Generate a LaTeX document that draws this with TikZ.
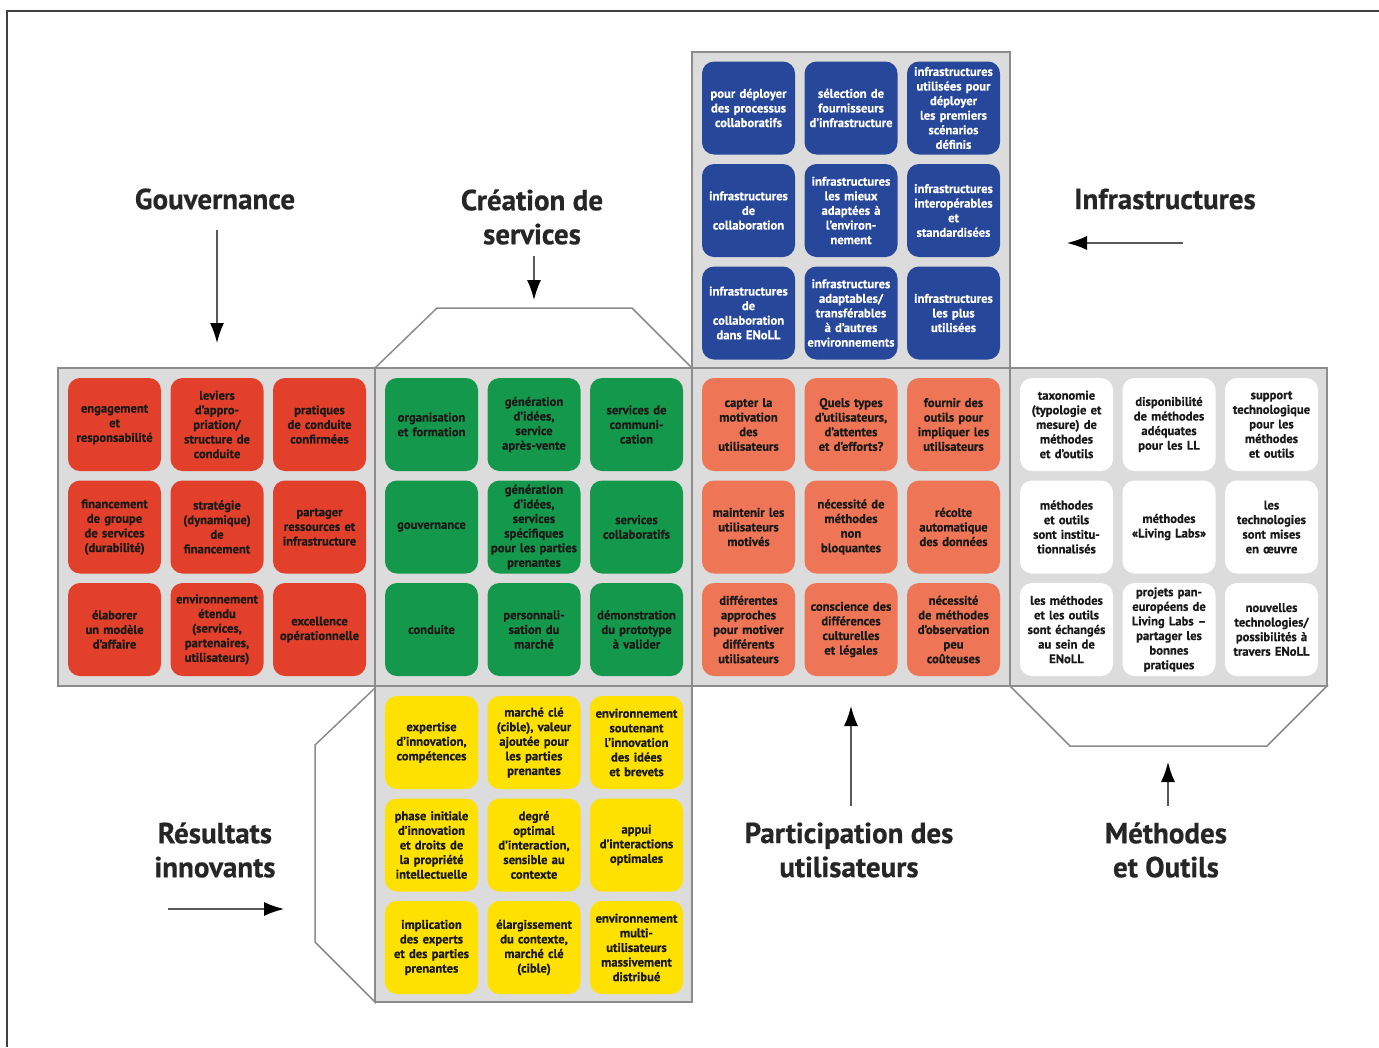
\documentclass[tikz,border=0pt]{standalone}
\usepackage{fontspec}
\setmainfont{PT Sans}[BoldFeatures={FakeBold=0.6}]
\usepackage{tikz}
\usetikzlibrary{shapes,arrows.meta,positioning}

\definecolor{gouvred}{HTML}{E2402B}
\definecolor{servgreen}{HTML}{14984B}
\definecolor{infrablue}{HTML}{27479A}
\definecolor{partorange}{HTML}{EE7656}
\definecolor{resyellow}{HTML}{FFE100}
\definecolor{facegray}{HTML}{DCDCDC}
\definecolor{edgegray}{HTML}{8C8C8C}

\tikzset{
	tilebox/.style={rounded corners=12pt, minimum width=93pt, minimum height=93pt, text width=92pt, inner sep=0pt, align=center, font=\fontsize{12.6}{14.6}\selectfont\bfseries, text=black!90},
	facebox/.style={fill=facegray, draw=edgegray, line width=1.5pt},
	flapline/.style={fill=white, draw=edgegray, line width=1.5pt},
	titlelabel/.style={align=center, font=\fontsize{29}{34}\selectfont\bfseries, text=black!85},
	pointerarrow/.style={draw=black!65, line width=1.5pt, -{Latex[length=20pt,width=14pt,color=black]}}
}

\begin{document}
\begin{tikzpicture}[x=1pt, y=-1pt]
				\useasboundingbox (0,0) rectangle (1379,1047);
				\draw [line width=2pt, draw=black!75] (7,1047) -- (7,11) -- (1379,11);

				% flaps
				\draw [flapline] (375,368) -- (437,308) -- (632,308) -- (692,368) -- cycle;
				\draw [flapline] (1010,686) -- (1070,746) -- (1267,746) -- (1327,686) -- cycle;
				\draw [flapline] (375,688) -- (315,745) -- (315,942) -- (375,1002) -- cycle;

				% infrastructures
				\draw [facebox] (692,52) rectangle (1010,368);
				\foreach \txt [count=\i from 0] in {
						{pour déployer\\des processus\\collaboratifs},
						{sélection de\\fournisseurs\\d’infrastructure},
						{infrastructures\\utilisées pour\\déployer\\les premiers\\scénarios\\définis},
						{infrastructures\\de\\collaboration},
						{infrastructures\\les mieux\\adaptées à\\l’environ-\\nement},
						{infrastructures\\interopérables\\et\\standardisées},
						{infrastructures\\de\\collaboration\\dans ENoLL},
						{infrastructures\\adaptables/\\transférables\\à d’autres\\environnements},
						{infrastructures\\les plus\\utilisées}}{
					\pgfmathtruncatemacro{\col}{mod(\i,3)}
					\pgfmathtruncatemacro{\row}{\i/3}
					\node [tilebox, fill=infrablue, text=white] (infra\i) at (748.5+102.5*\col, 108+102.5*\row) {\txt};
				}

				% gouvernance
				\draw [facebox] (58,368) rectangle (375,686);
				\foreach \txt [count=\i from 0] in {
						{engagement\\et\\responsabilité},
						{leviers\\d’appro-\\priation/\\structure de\\conduite},
						{pratiques\\de conduite\\confirmées},
						{financement\\de groupe\\de services\\(durabilité)},
						{stratégie\\(dynamique)\\de\\financement},
						{partager\\ressources et\\infrastructure},
						{élaborer\\un modèle\\d’affaire},
						{environnement\\étendu\\(services,\\partenaires,\\utilisateurs)},
						{excellence\\opérationnelle}}{
					\pgfmathtruncatemacro{\col}{mod(\i,3)}
					\pgfmathtruncatemacro{\row}{\i/3}
					\node [tilebox, fill=gouvred] (gouv\i) at (114.5+102.5*\col, 424.5+102.5*\row) {\txt};
				}

				% creation de services
				\draw [facebox] (375,368) rectangle (692,686);
				\foreach \txt [count=\i from 0] in {
						{organisation\\et formation},
						{génération\\d’idées,\\service\\après-vente},
						{services de\\communi-\\cation},
						{gouvernance},
						{génération\\d’idées,\\services\\spécifiques\\pour les parties\\prenantes},
						{services\\collaboratifs},
						{conduite},
						{personnali-\\sation du\\marché},
						{démonstration\\du prototype\\à valider}}{
					\pgfmathtruncatemacro{\col}{mod(\i,3)}
					\pgfmathtruncatemacro{\row}{\i/3}
					\node [tilebox, fill=servgreen] (serv\i) at (431.5+102.5*\col, 424.5+102.5*\row) {\txt};
				}

				% participation des utilisateurs
				\draw [facebox] (692,368) rectangle (1010,686);
				\foreach \txt [count=\i from 0] in {
						{capter la\\motivation\\des\\utilisateurs},
						{Quels types\\d’utilisateurs,\\d’attentes\\et d’efforts?},
						{fournir des\\outils pour\\impliquer les\\utilisateurs},
						{maintenir les\\utilisateurs\\motivés},
						{nécessité de\\méthodes\\non\\bloquantes},
						{récolte\\automatique\\des données},
						{différentes\\approches\\pour motiver\\différents\\utilisateurs},
						{conscience des\\différences\\culturelles\\et légales},
						{nécessité\\de méthodes\\d’observation\\peu\\coûteuses}}{
					\pgfmathtruncatemacro{\col}{mod(\i,3)}
					\pgfmathtruncatemacro{\row}{\i/3}
					\node [tilebox, fill=partorange] (part\i) at (748.5+102.5*\col, 424.5+102.5*\row) {\txt};
				}

				% methodes et outils
				\draw [facebox] (1010,368) rectangle (1327,686);
				\foreach \txt [count=\i from 0] in {
						{taxonomie\\(typologie et\\mesure) de\\méthodes\\et d’outils},
						{disponibilité\\de méthodes\\adéquates\\pour les LL},
						{support\\technologique\\pour les\\méthodes\\et outils},
						{méthodes\\et outils\\sont institu-\\tionnalisés},
						{méthodes\\«Living Labs»},
						{les\\technologies\\sont mises\\en œuvre},
						{les méthodes\\et les outils\\sont échangés\\au sein de\\ENoLL},
						{projets pan-\\européens de\\Living Labs –\\partager les\\bonnes\\pratiques},
						{nouvelles\\technologies/\\possibilités à\\travers ENoLL}}{
					\pgfmathtruncatemacro{\col}{mod(\i,3)}
					\pgfmathtruncatemacro{\row}{\i/3}
					\node [tilebox, fill=white] (meth\i) at (1066.5+102.5*\col, 424.5+102.5*\row) {\txt};
				}

				% resultats innovants
				\draw [facebox] (375,686) rectangle (692,1002);
				\foreach \txt [count=\i from 0] in {
						{expertise\\d’innovation,\\compétences},
						{marché clé\\(cible), valeur\\ajoutée pour\\les parties\\prenantes},
						{environnement\\soutenant\\l’innovation\\des idées\\et brevets},
						{phase initiale\\d’innovation\\et droits de\\la propriété\\intellectuelle},
						{degré\\optimal\\d’interaction,\\sensible au\\contexte},
						{appui\\d’interactions\\optimales},
						{implication\\des experts\\et des parties\\prenantes},
						{élargissement\\du contexte,\\marché clé\\(cible)},
						{environnement\\multi-\\utilisateurs\\massivement\\distribué}}{
					\pgfmathtruncatemacro{\col}{mod(\i,3)}
					\pgfmathtruncatemacro{\row}{\i/3}
					\node [tilebox, fill=resyellow] (res\i) at (431.5+102.5*\col, 742.5+102.5*\row) {\txt};
				}

				% titles and arrows
				\node [titlelabel] (gouvtitle) at (215,199) {Gouvernance};
				\node [titlelabel] (servtitle) at (532,217) {Création de\\services};
				\node [titlelabel] (infratitle) at (1165,199) {Infrastructures};
				\node [titlelabel] (restitle) at (215,850) {Résultats\\innovants};
				\node [titlelabel] (parttitle) at (849,850) {Participation des\\utilisateurs};
				\node [titlelabel] (methtitle) at (1166,850) {Méthodes\\et Outils};

				\coordinate (gouvA) at (217,230);	\coordinate (gouvB) at (217,343);
				\coordinate (servA) at (534,256);	\coordinate (servB) at (534,300);
				\coordinate (infraA) at (1183,243);	\coordinate (infraB) at (1067,243);
				\coordinate (resA) at (168,909);	\coordinate (resB) at (284,909);
				\coordinate (partA) at (851,806);	\coordinate (partB) at (851,706);
				\coordinate (methA) at (1168,806);	\coordinate (methB) at (1168,762);

				\draw [pointerarrow] (gouvA) -- (gouvB);
				\draw [pointerarrow] (servA) -- (servB);
				\draw [pointerarrow] (infraA) -- (infraB);
				\draw [pointerarrow] (resA) -- (resB);
				\draw [pointerarrow] (partA) -- (partB);
				\draw [pointerarrow] (methA) -- (methB);

				\end{tikzpicture}
\end{document}
